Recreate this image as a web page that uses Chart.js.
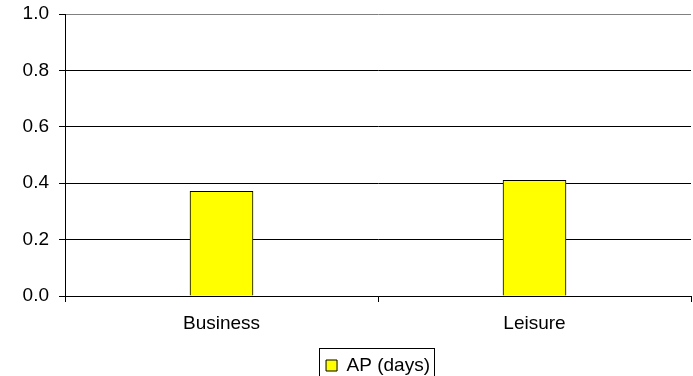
<!DOCTYPE html>
<html>
<head>
<meta charset="utf-8">
<script src="https://cdn.jsdelivr.net/npm/chart.js@4"></script>
<style>
  html, body { margin: 0; padding: 0; background: #fff; }
  #wrap { width: 693px; height: 376px; }
</style>
</head>
<body>
<div id="wrap"><canvas id="chart" width="693" height="376"></canvas></div>
<script>
// donnees
const categories = ["Business", "Leisure"]
const apDays = [0.371, 0.410]
const seriesLabel = "AP (days)"
const yTicks = [0.0, 0.2, 0.4, 0.6, 0.8, 1.0]

const fontText = { family: "'Liberation Sans', Arial, sans-serif", size: 19 }

// cadre autour de la legende, comme dans excel
const legendFrame = {
    id: "legendFrame",
    afterDraw(chart) {
        let legend = chart.legend
        if (!legend || !legend.legendHitBoxes.length) return
        let hb = legend.legendHitBoxes[0]
        let ctx = chart.ctx
        ctx.save()
        ctx.strokeStyle = "#000"
        ctx.lineWidth = 1
        ctx.strokeRect(Math.round(hb.left - 7) + 0.5, Math.round(hb.top - 8) + 0.5, Math.round(hb.width + 11), Math.round(hb.height + 16))
        ctx.restore()
    }
}

let config = {
    type: "bar",
    data: {
        labels: categories,
        datasets: [{
            label: seriesLabel,
            data: apDays,
            backgroundColor: "#FFFF00",
            borderColor: "#000",
            borderWidth: 1,
            barThickness: 63,
        }],
    },
    options: {
        responsive: false,
        animation: false,
        layout: { padding: { left: 0, right: 2, top: 14, bottom: -9 } },
        plugins: {
            tooltip: { enabled: false },
            legend: {
                position: "bottom",
                fullSize: false,
                labels: {
                    boxWidth: 11,
                    boxHeight: 11,
                    padding: 8,
                    color: "#000",
                    font: fontText,
                },
            },
        },
        scales: {
            x: {
                grid: {
                    offset: true,
                    color: (c) => c.index === 2 ? "#808080" : (c.index === 0 ? "#000" : "rgba(0,0,0,0)"),
                    tickColor: "#000",
                    tickLength: 6,
                    lineWidth: 1,
                },
                border: { color: "#000", width: 1 },
                ticks: { color: "#000", font: fontText, padding: 10 },
                afterFit: (scale) => { scale.height = 52; scale.paddingLeft = 0; scale.paddingRight = 0 },
            },
            y: {
                min: 0,
                max: 1,
                afterBuildTicks: (scale) => { scale.ticks = yTicks.map((v) => ({ value: v })) },
                grid: {
                    color: (c) => c.tick && c.tick.value === 1 ? "#808080" : "#000",
                    tickColor: "#000",
                    tickLength: 6,
                    lineWidth: 1,
                },
                border: { color: "#000", width: 1 },
                ticks: {
                    color: "#000",
                    font: fontText,
                    padding: 10,
                    callback: (v) => Number(v).toFixed(1),
                },
                afterFit: (scale) => { scale.width = 65; scale.paddingTop = 0; scale.paddingBottom = 0 },
            },
        },
    },
    plugins: [legendFrame],
}

let chartBar = new Chart(document.getElementById("chart"), config)
</script>
</body>
</html>
